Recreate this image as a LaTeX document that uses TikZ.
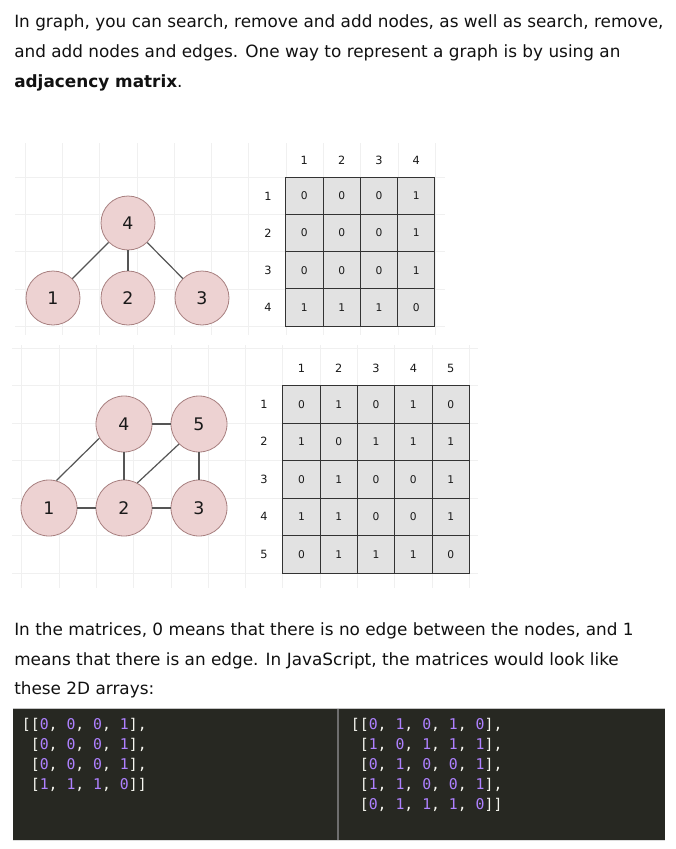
\documentclass[tikz,border=0pt]{standalone}
\usepackage{fontspec}
\setmainfont{DejaVu Sans}
\setmonofont{DejaVu Sans Mono}
\definecolor{nodefill}{HTML}{EDD2D2}
\definecolor{nodeedge}{HTML}{A88080}
\definecolor{edgegray}{HTML}{555555}
\definecolor{cellfill}{HTML}{E2E2E2}
\definecolor{cellborder}{HTML}{333333}
\definecolor{gridline}{HTML}{F0F0F0}
\definecolor{codebg}{HTML}{272822}
\definecolor{codenum}{HTML}{AE81FF}
\definecolor{codepunct}{HTML}{F8F8F2}
\definecolor{codesep}{HTML}{6E6E6E}
\definecolor{rulegray}{HTML}{C4C4C4}
\definecolor{bodytext}{HTML}{111111}
\newcommand\cnum[1]{\textcolor{codenum}{#1}}
\begin{document}
\begin{tikzpicture}[x=0.75pt,y=-0.75pt,
  bodyline/.style={anchor=base west, inner sep=0, text=bodytext, font=\fontsize{12.65}{15}\selectfont},
  gnode/.style={circle, draw=nodeedge, fill=nodefill, line width=0.6pt, inner sep=0, text=black!90, font=\fontsize{13}{15}\selectfont},
  gedge/.style={draw=edgegray, line width=0.9pt},
  cellbox/.style={rectangle, draw=cellborder, fill=cellfill, line width=0.7pt, minimum width=27.98pt, minimum height=27.9pt, inner sep=0, text=black!90, font=\fontsize{8}{9}\selectfont},
  mlabel/.style={inner sep=0, text=black!90, font=\fontsize{8.5}{9}\selectfont},
  codeline/.style={anchor=base west, inner sep=0, text=codepunct, font=\ttfamily\fontsize{11.1}{13}\selectfont},
  faint/.style={draw=gridline, line width=0.6pt}
]
\useasboundingbox[fill=white] (0,0) rectangle (675,849);

% ---------- paragraph 1 ----------
\node[bodyline] (p1a) at (14,28) {In graph, you can search, remove and add nodes, as well as search, remove,};
\node[bodyline] (p1b) at (14,58) {and add nodes and edges. One way to represent a graph is by using an};
\node[bodyline] (p1c) at (14,88) {\textbf{adjacency matrix}.};

% ---------- figure 1 background grid ----------
\foreach \k in {0,...,11} \draw[faint] ({25+37.3*\k},143) -- ({25+37.3*\k},335);
\foreach \k in {0,...,4} \draw[faint] (15,{177.3+37.2*\k}) -- (445,{177.3+37.2*\k});

% ---------- graph 1 ----------
\node[gnode, minimum size=40.5pt] (a4) at (128,223) {4};
\node[gnode, minimum size=40.5pt] (a1) at (53,298) {1};
\node[gnode, minimum size=40.5pt] (a2) at (128,298) {2};
\node[gnode, minimum size=40.5pt] (a3) at (202,298) {3};
\draw[gedge] (a4) -- (a1);
\draw[gedge] (a4) -- (a2);
\draw[gedge] (a4) -- (a3);

% ---------- matrix 1 ----------
\foreach \c in {1,...,4} \node[mlabel] (ca\c) at ({285.7+37.3*(\c-0.5)},160) {\c};
\foreach \r in {1,...,4} \node[mlabel] (ra\r) at (268,{177.3+37.2*(\r-0.5)}) {\r};
\foreach \row [count=\r] in {{0,0,0,1},{0,0,0,1},{0,0,0,1},{1,1,1,0}}
  \foreach \v [count=\c] in \row
    \node[cellbox] (ma-\r-\c) at ({285.7+37.3*(\c-0.5)},{177.3+37.2*(\r-0.5)}) {\v};

% ---------- figure 2 background grid ----------
\foreach \k in {0,...,12} \draw[faint] ({21.7+37.3*\k},345) -- ({21.7+37.3*\k},588);
\foreach \k in {0,...,6} \draw[faint] (12,{348+37.5*\k}) -- (478,{348+37.5*\k});

% ---------- graph 2 ----------
\node[gnode, minimum size=42pt] (b4) at (124,424) {4};
\node[gnode, minimum size=42pt] (b5) at (199,424) {5};
\node[gnode, minimum size=42pt] (b1) at (49,508) {1};
\node[gnode, minimum size=42pt] (b2) at (124,508) {2};
\node[gnode, minimum size=42pt] (b3) at (199,508) {3};
\draw[gedge] (b1.75) -- (b4.210);
\draw[gedge] (b4) -- (b5);
\draw[gedge] (b4) -- (b2);
\draw[gedge] (b2.62) -- (b5.225);
\draw[gedge] (b5) -- (b3);
\draw[gedge] (b1) -- (b2);
\draw[gedge] (b2) -- (b3);

% ---------- matrix 2 ----------
\foreach \c in {1,...,5} \node[mlabel] (cb\c) at ({282.8+37.3*(\c-0.5)},368) {\c};
\foreach \r in {1,...,5} \node[mlabel] (rb\r) at (264,{385.5+37.5*(\r-0.5)}) {\r};
\foreach \row [count=\r] in {{0,1,0,1,0},{1,0,1,1,1},{0,1,0,0,1},{1,1,0,0,1},{0,1,1,1,0}}
  \foreach \v [count=\c] in \row
    \node[cellbox, minimum height=28.1pt] (mb-\r-\c) at ({282.8+37.3*(\c-0.5)},{385.5+37.5*(\r-0.5)}) {\v};

% ---------- paragraph 2 ----------
\node[bodyline] (p2a) at (14,635.5) {In the matrices, 0 means that there is no edge between the nodes, and 1};
\node[bodyline] (p2b) at (14,665) {means that there is an edge. In JavaScript, the matrices would look like};
\node[bodyline] (p2c) at (14,694.5) {these 2D arrays:};

% ---------- code blocks ----------
\fill[codebg] (12.7,709) rectangle (665,840);
\draw[rulegray, line width=0.9pt] (12.7,708.6) -- (665,708.6);
\draw[rulegray!60, line width=0.6pt] (12.7,840.5) -- (665,840.5);
\draw[codesep, line width=1.4pt] (338,709) -- (338,840);

\node[codeline] (la1) at (21.7,729) {[[\cnum{0}, \cnum{0}, \cnum{0}, \cnum{1}],};
\node[codeline] (la2) at (21.7,749) {\phantom{[}[\cnum{0}, \cnum{0}, \cnum{0}, \cnum{1}],};
\node[codeline] (la3) at (21.7,769) {\phantom{[}[\cnum{0}, \cnum{0}, \cnum{0}, \cnum{1}],};
\node[codeline] (la4) at (21.7,789) {\phantom{[}[\cnum{1}, \cnum{1}, \cnum{1}, \cnum{0}]]};

\node[codeline] (lb1) at (350.7,729) {[[\cnum{0}, \cnum{1}, \cnum{0}, \cnum{1}, \cnum{0}],};
\node[codeline] (lb2) at (350.7,749) {\phantom{[}[\cnum{1}, \cnum{0}, \cnum{1}, \cnum{1}, \cnum{1}],};
\node[codeline] (lb3) at (350.7,769) {\phantom{[}[\cnum{0}, \cnum{1}, \cnum{0}, \cnum{0}, \cnum{1}],};
\node[codeline] (lb4) at (350.7,789) {\phantom{[}[\cnum{1}, \cnum{1}, \cnum{0}, \cnum{0}, \cnum{1}],};
\node[codeline] (lb5) at (350.7,809) {\phantom{[}[\cnum{0}, \cnum{1}, \cnum{1}, \cnum{1}, \cnum{0}]]};
\end{tikzpicture}
\end{document}
